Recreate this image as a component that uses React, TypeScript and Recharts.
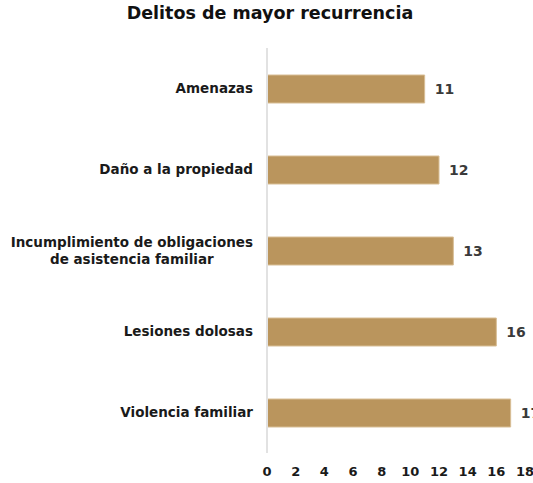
import React from "react";
import { BarChart, Bar, XAxis, YAxis, LabelList } from "recharts";

const categories = [
  "Amenazas",
  "Daño a la propiedad",
  "Incumplimiento de obligaciones|de asistencia familiar",
  "Lesiones dolosas",
  "Violencia familiar",
];
const values = [11, 12, 13, 16, 17];
const xTicks = [0, 2, 4, 6, 8, 10, 12, 14, 16, 18];

const data = categories.map((c, i) => ({ name: c, value: values[i] }));

const FONT = "'DejaVu Sans', 'Open Sans', sans-serif";
const LABEL_SIZE = 13.5;

let ctx: CanvasRenderingContext2D | null = null;
const measure = (s: string) => {
  if (!ctx && typeof document !== "undefined") {
    ctx = document.createElement("canvas").getContext("2d");
  }
  if (!ctx) return s.length * 8;
  ctx.font = `700 ${LABEL_SIZE}px 'DejaVu Sans'`;
  return ctx.measureText(s).width;
};

const YTick = (props: any) => {
  const { x, y, payload } = props;
  const lines = String(payload.value).split("|");
  const lh = 17;
  const start = -((lines.length - 1) * lh) / 2;
  const right = x - 6;
  if (lines.length === 1) {
    return (
      <text x={right} y={y} dy="0.35em" textAnchor="end" fill="#1a1a1a"
        fontFamily={FONT} fontWeight={700} fontSize={LABEL_SIZE}>
        {lines[0]}
      </text>
    );
  }
  const maxW = Math.max(...lines.map(measure));
  const cx = right - maxW / 2;
  return (
    <text x={cx} y={y} textAnchor="middle" fill="#1a1a1a"
      fontFamily={FONT} fontWeight={700} fontSize={LABEL_SIZE}>
      {lines.map((l, i) => (
        <tspan key={i} x={cx} y={y + start + i * lh} dy="0.35em">
          {l}
        </tspan>
      ))}
    </text>
  );
};

export default function App() {
  return (
    <div style={{ position: "absolute", left: 0, top: 0, width: 533, height: 483, background: "#fff" }}>
      <div
        style={{
          position: "absolute",
          left: 0,
          top: 3,
          width: 540,
          textAlign: "center",
          fontFamily: FONT,
          fontWeight: 700,
          fontSize: 17.5,
          color: "#111",
        }}
      >
        Delitos de mayor recurrencia
      </div>
      <BarChart
        width={533}
        height={483}
        data={data}
        layout="vertical"
        margin={{ top: 48, right: 8, bottom: 0, left: 0 }}
      >
        <XAxis
          type="number"
          domain={[0, 18]}
          ticks={xTicks}
          axisLine={false}
          tickLine={false}
          tickMargin={8}
          height={30}
          interval={0}
          tick={{ fill: "#1a1a1a", fontFamily: FONT, fontWeight: 700, fontSize: 13 }}
        />
        <YAxis
          type="category"
          dataKey="name"
          width={267}
          axisLine={{ stroke: "#e2e2e2", strokeWidth: 2 }}
          tickLine={false}
          tick={<YTick />}
          interval={0}
        />
        <Bar dataKey="value" fill="#BA955D" stroke="#D8BE96" strokeWidth={1} barSize={28} isAnimationActive={false}>
          <LabelList
            dataKey="value"
            position="right"
            offset={10}
            fill="#3a3a3a"
            fontFamily={FONT}
            fontWeight={700}
            fontSize={14}
          />
        </Bar>
      </BarChart>
    </div>
  );
}
